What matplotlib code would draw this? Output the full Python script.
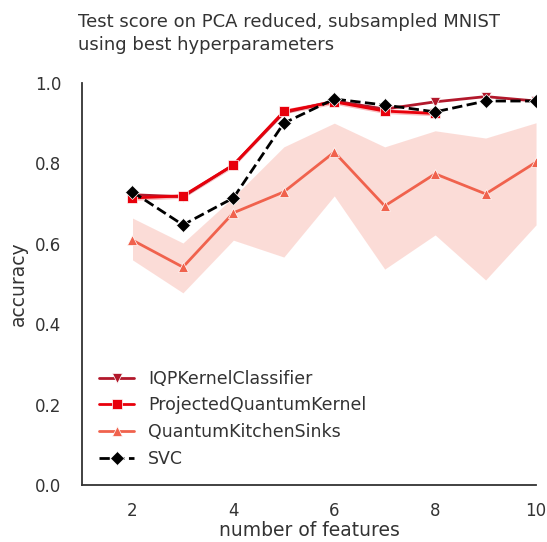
import numpy as np
import matplotlib
matplotlib.use("Agg")
import matplotlib.pyplot as plt
import seaborn as sns

sns.set_theme(style="white", context="notebook")
plt.rcParams["font.family"] = ["DejaVu Sans"]

n_features = [2, 3, 4, 5, 6, 7, 8, 9, 10]

iqp = [0.722, 0.717, 0.796, 0.926, 0.955, 0.935, 0.953, 0.966, 0.955]
pqk = [0.714, 0.719, 0.796, 0.929, 0.953, 0.930, 0.924]
pqk_x = [2, 3, 4, 5, 6, 7, 8]
qks = [0.609, 0.542, 0.677, 0.729, 0.828, 0.694, 0.774, 0.724, 0.803]
qks_lo = [0.560, 0.478, 0.609, 0.567, 0.719, 0.537, 0.622, 0.510, 0.647]
qks_hi = [0.664, 0.602, 0.716, 0.841, 0.900, 0.841, 0.881, 0.863, 0.901]
svc = [0.729, 0.647, 0.714, 0.900, 0.960, 0.945, 0.928, 0.955, 0.955]

c_iqp = "#b2182b"
c_pqk = "#e8000b"
c_qks = "#f0624d"
txt = "#333333"

fig, ax = plt.subplots(figsize=(5.47, 5.42), dpi=100)

ax.fill_between(n_features, qks_lo, qks_hi, color=c_qks, alpha=0.22, lw=0)
ax.fill_between(pqk_x, np.array(pqk) - 0.006, np.array(pqk) + 0.006,
                color=c_pqk, alpha=0.25, lw=0)

ax.plot(n_features, iqp, color=c_iqp, marker="v", lw=2, ms=7,
        mec="white", mew=0.5, label="IQPKernelClassifier")
ax.plot(pqk_x, pqk, color=c_pqk, marker="s", lw=2, ms=7,
        mec="white", mew=0.5, label="ProjectedQuantumKernel")
ax.plot(n_features, qks, color=c_qks, marker="^", lw=2, ms=7,
        mec="white", mew=0.5, label="QuantumKitchenSinks")
ax.plot(n_features, svc, color="black", marker="D", ls="--", lw=2, ms=7,
        mec="white", mew=0.5, label="SVC")

ax.set_xlim(1, 10)
ax.set_ylim(0, 1)
ax.set_xticks([2, 4, 6, 8, 10])
ax.set_yticks([0.0, 0.2, 0.4, 0.6, 0.8, 1.0])
ax.tick_params(labelsize=12, colors=txt)
ax.tick_params(axis="y", pad=9)
ax.tick_params(axis="x", pad=6)
ax.set_xlabel("number of features", fontsize=13.5, color=txt, labelpad=1)
ax.set_ylabel("accuracy", fontsize=13.5, color=txt, labelpad=5)
ax.set_title("Test score on PCA reduced, subsampled MNIST\nusing best hyperparameters",
             loc="left", fontsize=13, pad=24, color=txt, linespacing=1.3,
             x=-0.01)
sns.despine(ax=ax)
for s in ["left", "bottom"]:
    ax.spines[s].set_color(txt)
    ax.spines[s].set_linewidth(1.3)

leg = ax.legend(loc="lower left", frameon=False, fontsize=12.5, handlelength=2,
                labelspacing=0.5, borderaxespad=0.6)
for t in leg.get_texts():
    t.set_color(txt)

fig.subplots_adjust(left=0.15, right=0.98, top=0.847, bottom=0.105)
fig.savefig("out.png", dpi=100)
